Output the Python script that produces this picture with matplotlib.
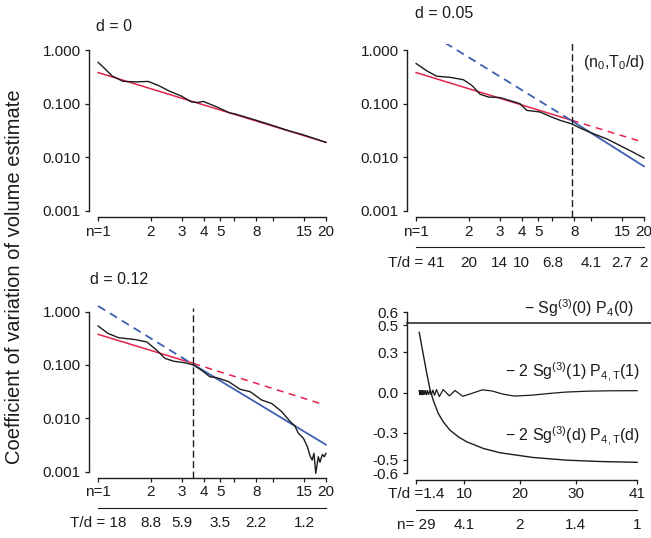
import numpy as np
import matplotlib
matplotlib.use("Agg")
import matplotlib.pyplot as plt
from matplotlib.ticker import NullLocator

plt.rcParams['font.family'] = ['Liberation Sans', 'DejaVu Sans']
plt.rcParams['mathtext.fontset'] = 'custom'
plt.rcParams['mathtext.rm'] = 'Liberation Sans'
plt.rcParams['mathtext.it'] = 'Liberation Sans:italic'
plt.rcParams['mathtext.bf'] = 'Liberation Sans:bold'
plt.rcParams['lines.scale_dashes'] = False

# ---------------- data ----------------
n_ticks = [1, 2, 3, 4, 5, 6, 8, 10, 15, 20]
n_labels = ["n=1", "2", "3", "4", "5", "", "8", "", "15", "20"]
cv_ticks = [0.001, 0.01, 0.1, 1.0]
cv_labels = ["0.001", "0.010", "0.100", "1.000"]

# d = 0
d0_n = [1, 1.1, 1.2, 1.39, 1.66, 1.93, 2.2, 2.57, 3.0, 3.41, 3.7, 4.0, 4.76, 5.66, 6.0, 6.74, 8, 10,
        12, 15, 17.5, 20]
d0_v = [0.59, 0.44, 0.33, 0.26, 0.255, 0.26, 0.22, 0.17, 0.138, 0.108, 0.105, 0.11, 0.087, 0.067,
        0.065, 0.058, 0.049, 0.039, 0.032, 0.026, 0.022, 0.019]
red0_n = [1, 20]
red0_v = [0.38, 0.019]

# d = 0.05
d05_n = [1, 1.15, 1.31, 1.56, 1.86, 2.08, 2.32, 2.59, 3.01, 3.67, 3.92, 4.29, 5.1, 5.82, 6.64,
         7.74, 8.83, 10.3, 12.3, 14.6, 17.4, 20]
d05_v = [0.56, 0.41, 0.325, 0.31, 0.28, 0.22, 0.15, 0.133, 0.13, 0.107, 0.1, 0.075, 0.07, 0.058,
         0.049, 0.042, 0.034, 0.0275, 0.022, 0.0166, 0.0124, 0.0097]
n0_05 = 7.75
red05_solid_n = [1, 7.75]
red05_solid_v = [0.38, 0.049]
red05_dash_n = [7.75, 19]
red05_dash_v = [0.049, 0.02]
blue05_dash_n = [1.46, 7.75]
blue05_dash_v = [1.37, 0.048]
blue05_solid_n = [7.75, 20]
blue05_solid_v = [0.048, 0.0068]
td05_ticks = [1, 2, 3, 4, 6, 10, 15, 20]
td05_labels = ["T/d = 41", "20", "14", "10", "6.8", "4.1", "2.7", "2"]

# d = 0.12
d12_n = [1, 1.14, 1.31, 1.63, 1.9, 2.16, 2.41, 2.69, 3.14, 3.5, 3.9, 4.35, 4.75, 5.55, 6.47, 7.38,
         8.6, 9.8, 11.2, 12.5, 13.3, 13.9, 14.9, 15.7, 16.2, 16.7, 17.1, 17.5, 18.1, 18.5, 19.1,
         19.6, 20]
d12_v = [0.54, 0.39, 0.325, 0.30, 0.27, 0.19, 0.133, 0.118, 0.11, 0.1, 0.08, 0.06, 0.058, 0.049,
         0.035, 0.0316, 0.022, 0.019, 0.0133, 0.0087, 0.0072, 0.0053, 0.0042, 0.0029, 0.002,
         0.00165, 0.0022, 0.00093, 0.0019, 0.0015, 0.0021, 0.0019, 0.0022]
n0_12 = 3.5
red12_solid_n = [1, 3.5]
red12_solid_v = [0.376, 0.107]
red12_dash_n = [3.5, 18.9]
red12_dash_v = [0.107, 0.0186]
blue12_dash_n = [1, 3.5]
blue12_dash_v = [1.28, 0.102]
blue12_solid_n = [3.5, 20]
blue12_solid_v = [0.102, 0.0032]
td12_ticks = [1, 2, 3, 5, 8, 15]
td12_labels = ["T/d = 18", "8.8", "5.9", "3.5", "2.2", "1.2"]

# bottom-right panel
br_x_ticks = [1.4, 10, 20, 30, 41]
br_x_labels = ["T/d =1.4", "10", "20", "30", "41"]
br_n_labels = ["n= 29", "4.1", "2", "1.4", "1"]
br_y_ticks = [-0.6, -0.5, -0.3, 0.0, 0.3, 0.5, 0.6]
br_y_labels = ["-0.6", "-0.5", "-0.3", "0.0", "0.3", "0.5", "0.6"]
flat_level = 0.52
osc_t = [2.0, 2.1, 2.2, 2.3, 2.4, 2.5, 2.62, 2.75, 2.88, 3.02, 3.17, 3.33, 3.5, 3.7, 3.92, 4.17,
         4.45, 4.75, 5.1, 5.6, 6.3, 7.4, 8.4, 9.8, 11.5, 13.3, 15.0, 17.0, 19.0, 22.0, 25.0, 28.0,
         32.0, 36.0, 41.0]
osc_v = [0.015, -0.015, 0.015, -0.015, 0.015, -0.015, 0.015, -0.015, 0.015, -0.015, 0.015, -0.015,
         0.015, -0.015, 0.015, -0.018, 0.018, -0.02, 0.022, -0.03, 0.022, -0.025, 0.015, -0.028,
         -0.005, 0.02, 0.012, -0.012, -0.026, -0.02, -0.008, 0.003, 0.01, 0.013, 0.014]
dec_t = [2.0, 2.7, 3.3, 3.9, 4.5, 5.4, 6.3, 7.5, 9.0, 10.5, 13.5, 16.5, 22.4, 28.4, 34.4, 41.0]
dec_v = [0.449, 0.29, 0.155, 0.03, -0.056, -0.155, -0.218, -0.28, -0.33, -0.367, -0.417, -0.449,
         -0.484, -0.504, -0.514, -0.52]

# ---------------- style ----------------
W, H = 651, 538
BLACK = '#1c1c1c'
RED = '#e3234b'
BLUE = '#3d5fae'
FS = 11
PX = 72.0 / 100.0  # points per pixel

fig = plt.figure(figsize=(W / 100, H / 100), dpi=100)
fig.patch.set_facecolor('white')


def box(x0, y0, x1, y1):
    return [x0 / W, 1 - y1 / H, (x1 - x0) / W, (y1 - y0) / H]


def log_pad(lo, hi):
    p = 0.04 * (np.log10(hi) - np.log10(lo))
    return lo / 10 ** p, hi * 10 ** p


def lin_pad(lo, hi):
    p = 0.04 * (hi - lo)
    return lo - p, hi + p


def style(ax):
    for s in ['top', 'right']:
        ax.spines[s].set_visible(False)
    for s in ['left', 'bottom']:
        ax.spines[s].set_color(BLACK)
        ax.spines[s].set_linewidth(1.0)
    ax.tick_params(axis='both', which='major', direction='out', length=4 * PX, width=0.9,
                   color=BLACK, labelcolor=BLACK, labelsize=FS)
    ax.tick_params(axis='x', pad=2.5)
    ax.tick_params(axis='y', pad=3)
    ax.xaxis.set_minor_locator(NullLocator())
    ax.yaxis.set_minor_locator(NullLocator())
    ax.patch.set_visible(False)


def second_axis(ax, ticks, labels, xscale, bounds):
    ax2 = ax.twiny()
    ax2.set_xscale(xscale)
    ax2.set_xlim(ax.get_xlim())
    for s in ['top', 'right', 'left']:
        ax2.spines[s].set_visible(False)
    ax2.spines['bottom'].set_visible(True)
    ax2.spines['bottom'].set_position(('outward', 30 * PX))
    ax2.spines['bottom'].set_color(BLACK)
    ax2.spines['bottom'].set_bounds(*bounds)
    ax2.xaxis.set_ticks_position('bottom')
    ax2.xaxis.set_label_position('bottom')
    ax2.set_xticks(ticks)
    ax2.set_xticklabels(labels)
    ax2.xaxis.set_minor_locator(NullLocator())
    ax2.tick_params(axis='x', which='both', length=0, pad=6, labelsize=FS, labelcolor=BLACK)
    return ax2


def log_panel(rect):
    ax = fig.add_axes(rect)
    ax.set_xscale('log')
    ax.set_yscale('log')
    ax.set_xlim(*log_pad(n_ticks[0], n_ticks[-1]))
    ax.set_ylim(*log_pad(cv_ticks[0], cv_ticks[-1]))
    style(ax)
    ax.spines['left'].set_bounds(cv_ticks[0], cv_ticks[-1])
    ax.spines['bottom'].set_bounds(n_ticks[0], n_ticks[-1])
    ax.set_xticks(n_ticks)
    ax.set_xticklabels(n_labels)
    ax.set_yticks(cv_ticks)
    ax.set_yticklabels(cv_labels)
    ax.xaxis.set_minor_locator(NullLocator())
    ax.yaxis.set_minor_locator(NullLocator())
    return ax


DASH_RED = (0, (5, 4))
DASH_BLUE = (0, (6, 4))
DASH_V = (0, (5, 2.5))

# --- top-left d = 0
ax1 = log_panel(box(89, 43.6, 335, 217.4))
ax1.plot(red0_n, red0_v, color=RED, lw=1.1)
ax1.plot(d0_n, d0_v, color=BLACK, lw=1.0)

# --- top-right d = 0.05
ax2 = log_panel(box(407, 43.6, 653, 217.4))
ax2.plot(red05_solid_n, red05_solid_v, color=RED, lw=1.1)
ax2.plot(red05_dash_n, red05_dash_v, color=RED, lw=1.1, linestyle=DASH_RED)
ax2.plot(blue05_dash_n, blue05_dash_v, color=BLUE, lw=1.3, linestyle=DASH_BLUE)
ax2.plot(blue05_solid_n, blue05_solid_v, color=BLUE, lw=1.3)
ax2.plot(d05_n, d05_v, color=BLACK, lw=1.0)
ax2.axvline(n0_05, ymin=0, ymax=1.01, color=BLACK, lw=1.0, linestyle=DASH_V, clip_on=False)
second_axis(ax2, td05_ticks, td05_labels, 'log', (n_ticks[0], n_ticks[-1]))

# --- bottom-left d = 0.12
ax3 = log_panel(box(89, 305.3, 335, 478))
ax3.plot(red12_solid_n, red12_solid_v, color=RED, lw=1.1)
ax3.plot(red12_dash_n, red12_dash_v, color=RED, lw=1.1, linestyle=DASH_RED)
ax3.plot(blue12_dash_n, blue12_dash_v, color=BLUE, lw=1.3, linestyle=DASH_BLUE)
ax3.plot(blue12_solid_n, blue12_solid_v, color=BLUE, lw=1.3)
ax3.plot(d12_n, d12_v, color=BLACK, lw=1.0)
ax3.axvline(n0_12, ymin=0, ymax=0.985, color=BLACK, lw=1.0, linestyle=DASH_V, clip_on=False)
second_axis(ax3, td12_ticks, td12_labels, 'log', (n_ticks[0], n_ticks[-1]))

# --- bottom-right
ax4 = fig.add_axes(box(407, 305.6, 646, 479.5))
ax4.set_xlim(*lin_pad(br_x_ticks[0], br_x_ticks[-1]))
ax4.set_ylim(*lin_pad(br_y_ticks[0], br_y_ticks[-1]))
style(ax4)
ax4.spines['left'].set_bounds(br_y_ticks[0], br_y_ticks[-1])
ax4.spines['bottom'].set_bounds(br_x_ticks[0], br_x_ticks[-1])
ax4.set_xticks(br_x_ticks)
ax4.set_xticklabels(br_x_labels)
ax4.set_yticks(br_y_ticks)
ax4.set_yticklabels(br_y_labels)
ax4.axhline(flat_level, xmin=0, xmax=1.03, color=BLACK, lw=1.1, clip_on=False)
ax4.plot(osc_t, osc_v, color=BLACK, lw=0.9)
ax4.plot(dec_t, dec_v, color=BLACK, lw=1.0)
second_axis(ax4, br_x_ticks, br_n_labels, 'linear', (br_x_ticks[0], br_x_ticks[-1]))

# ---------------- texts ----------------
def ftext(x, y, s, **kw):
    kw.setdefault('fontsize', FS)
    kw.setdefault('color', BLACK)
    fig.text(x / W, 1 - y / H, s, **kw)

ftext(96.5, 31, "d = 0", ha='left', va='baseline', fontsize=11.5)
ftext(415, 18.5, "d = 0.05", ha='left', va='baseline', fontsize=11.5)
ftext(90, 283.5, "d = 0.12", ha='left', va='baseline', fontsize=11.5)
ftext(583, 66.5, r"(n$_0$,T$_0$/d)", ha='left', va='baseline', fontsize=11.5)
ftext(634, 314, "− Sg$^{(3)}$(0) P$_4$(0)", ha='right', va='baseline', fontsize=11.5)
ftext(640, 377, r"− 2 Sg$^{(3)}$(1) P$_{4,\mathrm{T}}$(1)", ha='right', va='baseline', fontsize=11.5)
ftext(640, 441, r"− 2 Sg$^{(3)}$(d) P$_{4,\mathrm{T}}$(d)", ha='right', va='baseline', fontsize=11.5)
ftext(15, 277, "Coefficient of variation of volume estimate", ha='center', va='center',
      rotation=90, fontsize=14.5)

fig.savefig("out.png", dpi=100, facecolor='white')
